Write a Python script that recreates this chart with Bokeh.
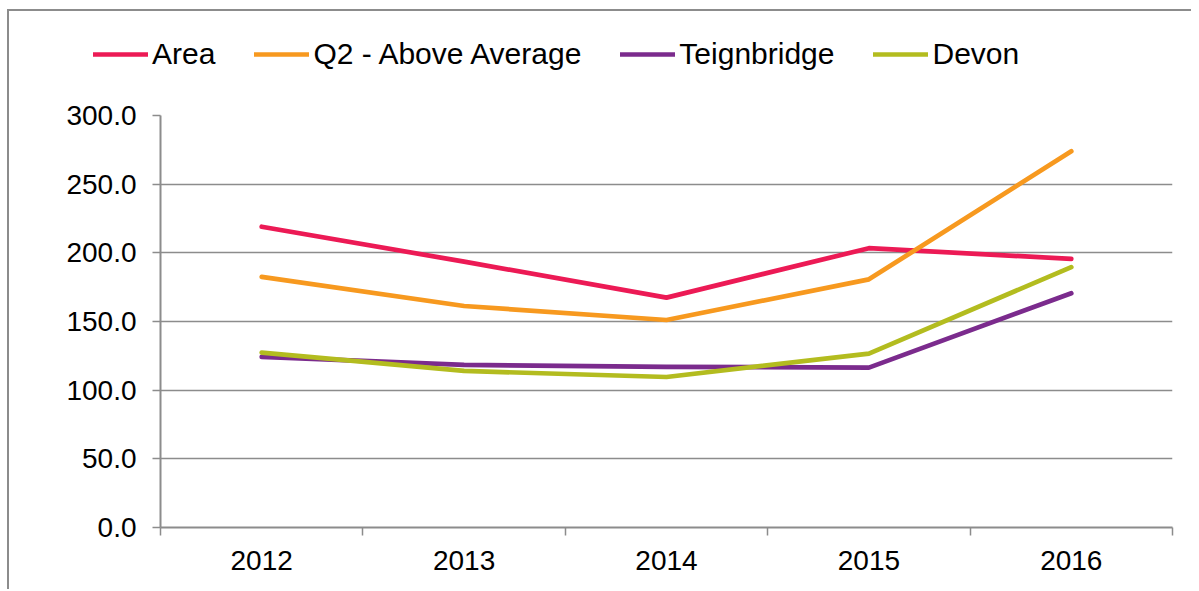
from bokeh.plotting import figure
from bokeh.layouts import column
from bokeh.models import FixedTicker, NumeralTickFormatter, Legend, LegendItem, Range1d, ColumnDataSource
from bokeh.embed import file_html
from bokeh.resources import INLINE

years = ["2012", "2013", "2014", "2015", "2016"]
area = [219.0, 193.6, 167.4, 203.4, 195.6]
q2_above_average = [182.5, 161.3, 151.1, 180.7, 273.9]
teignbridge = [124.2, 118.4, 117.0, 116.4, 170.6]
devon = [127.4, 114.0, 109.6, 126.6, 189.6]
y_ticks = [0, 50, 100, 150, 200, 250, 300]

series = [
    ("Area", area, "#EC1A55"),
    ("Q2 - Above Average", q2_above_average, "#F7991F"),
    ("Teignbridge", teignbridge, "#7B2B8D"),
    ("Devon", devon, "#B3BC1F"),
]

FONT = "Liberation Sans"
GRID = "#8c8c8c"
W = 1182

xs = [i + 0.5 for i in range(len(years))]

# ---- legend strip (its own small figure, lines kept out of its view) ----
lg = figure(width=W, height=88, output_backend="svg", toolbar_location=None,
            x_range=Range1d(0, len(years)), y_range=Range1d(1000, 1001),
            min_border=0)
lg.frame_align = False
lg.axis.visible = False
lg.grid.visible = False
lg.outline_line_color = None

# ---- main chart ----
p = figure(width=W, height=490, output_backend="svg", toolbar_location=None,
           x_range=Range1d(0, len(years)), y_range=Range1d(0, 300),
           min_border_left=151, min_border_top=16, min_border_right=19, min_border_bottom=62)
p.outline_line_color = None

items = []
for name, vals, col in series:
    src = ColumnDataSource(dict(x=xs, y=vals))
    p.line("x", "y", source=src, line_color=col, line_width=4.7, line_cap="round", line_join="round")
    r = lg.line("x", "y", source=src, line_color=col, line_width=4.7, line_cap="round")
    items.append(LegendItem(label=name, renderers=[r]))

# x axis
p.xaxis.ticker = FixedTicker(ticks=xs, minor_ticks=list(range(len(years) + 1)))
p.xaxis.major_label_overrides = {x: y for x, y in zip(xs, years)}
p.xaxis.major_tick_out = 0
p.xaxis.major_tick_in = 0
p.xaxis.minor_tick_out = 8
p.xaxis.minor_tick_in = 0
p.xaxis.minor_tick_line_color = GRID
p.xaxis.minor_tick_line_width = 1.5
p.xaxis.axis_line_color = GRID
p.xaxis.axis_line_width = 2
p.xaxis.major_label_standoff = 15
p.xgrid.visible = False

# y axis
p.yaxis.ticker = FixedTicker(ticks=y_ticks)
p.yaxis.formatter = NumeralTickFormatter(format="0.0")
p.yaxis.major_tick_out = 8
p.yaxis.major_tick_in = 0
p.yaxis.minor_tick_line_color = None
p.yaxis.major_tick_line_color = GRID
p.yaxis.major_tick_line_width = 1.5
p.yaxis.axis_line_color = GRID
p.yaxis.axis_line_width = 2
p.yaxis.major_label_standoff = 16
p.ygrid.ticker = FixedTicker(ticks=y_ticks)
p.ygrid.grid_line_color = GRID
p.ygrid.grid_line_width = 1.5

for ax in (p.xaxis, p.yaxis):
    ax.major_label_text_font = FONT
    ax.major_label_text_font_size = "28px"
    ax.major_label_text_color = "#000000"

legend = Legend(items=items, orientation="horizontal", location=(84, 28),
                glyph_width=55, label_standoff=4, spacing=39, padding=0, margin=0,
                label_text_font=FONT, label_text_font_size="30px", label_text_color="#000000",
                border_line_color=None, background_fill_alpha=0)
lg.add_layout(legend, "center")

layout = column(lg, p, spacing=0)
layout.margin = (9, 0, 0, 7)
layout.styles = {"border-left": "2px solid #8c8c8c", "border-top": "2px solid #8c8c8c"}

open("out.html", "w").write(file_html(layout, INLINE))
